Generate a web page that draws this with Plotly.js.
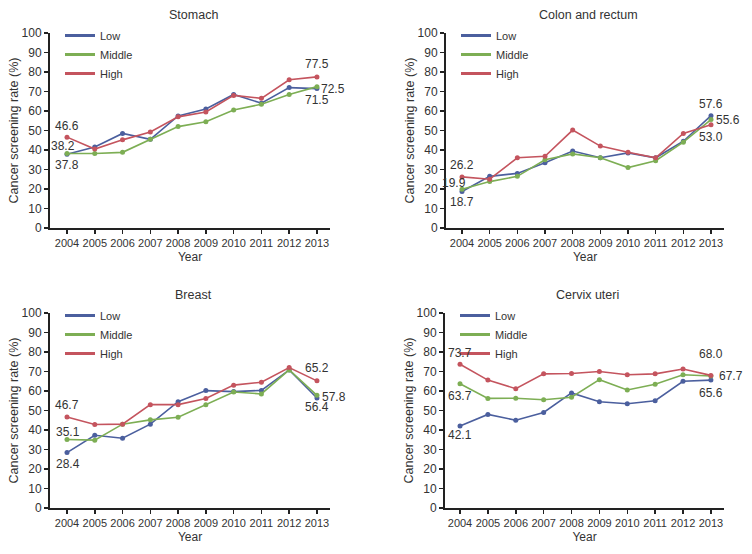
<!DOCTYPE html>
<html>
<head>
<meta charset="utf-8">
<script src="https://cdn.plot.ly/plotly-3.0.1.min.js"></script>
<style>
  html, body { margin: 0; padding: 0; background: #fff; }
  #chart { width: 752px; height: 554px; }
</style>
</head>
<body>
<div id="chart"></div>
<script>
const years = [2004, 2005, 2006, 2007, 2008, 2009, 2010, 2011, 2012, 2013];
const groups = ['Low', 'Middle', 'High'];
const panelTitles = ['Stomach', 'Colon and rectum', 'Breast', 'Cervix uteri'];
const yTicks = [0, 10, 20, 30, 40, 50, 60, 70, 80, 90, 100];

// screening rates (%) by income group
const stomachLow    = [37.8, 41.5, 48.5, 45.5, 57.5, 61.0, 68.5, 64.0, 72.0, 71.5];
const stomachMiddle = [38.2, 38.2, 38.8, 45.5, 52.0, 54.5, 60.5, 63.5, 68.5, 72.5];
const stomachHigh   = [46.6, 40.5, 45.2, 49.2, 57.0, 59.5, 68.0, 66.5, 76.0, 77.5];

const colonLow    = [18.7, 26.5, 28.0, 33.5, 39.5, 36.0, 38.5, 36.0, 44.5, 57.6];
const colonMiddle = [19.9, 23.8, 26.5, 35.0, 38.0, 36.0, 31.0, 34.5, 44.0, 55.6];
const colonHigh   = [26.2, 25.0, 36.0, 36.8, 50.2, 42.0, 38.8, 36.0, 48.5, 53.0];

const breastLow    = [28.4, 37.3, 35.8, 43.0, 54.5, 60.2, 59.7, 60.3, 70.8, 56.4];
const breastMiddle = [35.1, 34.8, 43.0, 45.2, 46.5, 53.0, 59.5, 58.5, 70.8, 57.8];
const breastHigh   = [46.7, 42.8, 43.0, 53.0, 53.0, 56.2, 63.0, 64.5, 72.0, 65.2];

const cervixLow    = [42.1, 48.0, 45.0, 49.0, 59.0, 54.5, 53.5, 55.0, 65.0, 65.6];
const cervixMiddle = [63.7, 56.2, 56.3, 55.5, 56.8, 65.8, 60.5, 63.5, 68.3, 67.7];
const cervixHigh   = [73.7, 65.6, 61.2, 68.8, 69.0, 70.0, 68.3, 68.8, 71.3, 68.0];

const panelData = [
  [stomachLow, stomachMiddle, stomachHigh],
  [colonLow, colonMiddle, colonHigh],
  [breastLow, breastMiddle, breastHigh],
  [cervixLow, cervixMiddle, cervixHigh]
];

const colors = ['#4b5f9e', '#7dae54', '#c4545e'];
const W = 752, H = 554;
const FONT = '"Liberation Sans", Arial, sans-serif';
const TXT = '#333333';

// pixel boxes for each panel: axis left/right, y of 100 and 0, first tick
const boxes = [
  { l: 50,  r: 330, top: 33,  bot: 228, first: 67 },
  { l: 446, r: 724, top: 33,  bot: 228, first: 462 },
  { l: 50,  r: 330, top: 313, bot: 508, first: 67 },
  { l: 445, r: 724, top: 313, bot: 508, first: 460 }
];

// end-point labels: [group index, year index, xshift, yshift]
const labelSpecs = [
  [[2, 0, 0, 11], [1, 0, -4, 8], [0, 0, 0, -11], [2, 9, 0, 13], [1, 9, 16, -2], [0, 9, 0, -11]],
  [[2, 0, 0, 12], [1, 0, -8, 6], [0, 0, 0, -10], [0, 9, 0, 12], [1, 9, 17, 0], [2, 9, 0, -12]],
  [[2, 0, 0, 12], [1, 0, 1, 8], [0, 0, 1, -11], [2, 9, 0, 13], [1, 9, 17, -2], [0, 9, 0, -9]],
  [[2, 0, 0, 11], [1, 0, 0, -12], [0, 0, 0, -9], [2, 9, 0, 21], [1, 9, 20, 0], [0, 9, 0, -13]]
];

const data = [];
const layout = {
  width: W, height: H,
  margin: { l: 0, r: 0, t: 0, b: 0 },
  paper_bgcolor: '#fff', plot_bgcolor: '#fff',
  font: { family: FONT, size: 11, color: TXT },
  annotations: [],
  showlegend: true
};

boxes.forEach((b, p) => {
  const n = p + 1;
  const sfx = n === 1 ? '' : String(n);
  const xr = 'x' + sfx, yr = 'y' + sfx, lg = 'legend' + sfx;
  const step = (b.r - b.first) / 9.47;

  // lines with markers
  groups.forEach((g, i) => {
    data.push({
      x: years, y: panelData[p][i],
      xaxis: xr, yaxis: yr,
      type: 'scatter', mode: 'lines+markers',
      name: g, showlegend: false,
      line: { color: colors[i], width: 1.6 },
      marker: { color: colors[i], size: 5 },
      hoverinfo: 'skip'
    });
  });
  // legend entries (line only)
  groups.forEach((g, i) => {
    data.push({
      x: [null], y: [null],
      xaxis: xr, yaxis: yr,
      type: 'scatter', mode: 'lines',
      name: g, legend: lg,
      line: { color: colors[i], width: 3 },
      hoverinfo: 'skip'
    });
  });

  const lo = 2004 - (b.first - b.l) / step;
  const hi = 2013 + (b.r - b.first - 9 * step) / step;
  layout['xaxis' + sfx] = {
    domain: [b.l / W, b.r / W],
    range: [lo, hi],
    anchor: yr,
    tickvals: years,
    ticktext: years.map(String),
    tickangle: 0,
    ticks: 'outside', ticklen: 4, tickwidth: 1.5, tickcolor: '#222',
    showline: true, linecolor: '#222', linewidth: 2,
    showgrid: false, zeroline: false,
    tickfont: { family: FONT, size: 11, color: TXT },
    title: { text: 'Year', font: { family: FONT, size: 12, color: TXT }, standoff: 4 }
  };
  layout['yaxis' + sfx] = {
    domain: [1 - b.bot / H, 1 - b.top / H],
    range: [0, 100],
    anchor: xr,
    tickvals: yTicks,
    ticks: 'outside', ticklen: 4, tickwidth: 1.5, tickcolor: '#222',
    showline: true, linecolor: '#222', linewidth: 2,
    showgrid: false, zeroline: false,
    tickfont: { family: FONT, size: 12, color: TXT },
    title: { text: 'Cancer screening rate (%)', font: { family: FONT, size: 12.5, color: TXT }, standoff: 0 }
  };
  layout[lg] = {
    x: (b.l + 10) / W, y: 1 - (b.top - 12) / H,
    xanchor: 'left', yanchor: 'top',
    bgcolor: 'rgba(0,0,0,0)',
    font: { family: FONT, size: 11, color: TXT },
    tracegroupgap: 0,
    itemwidth: 30
  };

  layout.annotations.push({
    text: panelTitles[p],
    xref: 'paper', yref: 'paper',
    x: ((b.l + b.r) / 2 + 3) / W, y: 1 - (b.top - 18) / H,
    xanchor: 'center', yanchor: 'middle',
    showarrow: false,
    font: { family: FONT, size: 12.5, color: TXT }
  });

  labelSpecs[p].forEach(([gi, yi, dx, dy]) => {
    const v = panelData[p][gi][yi];
    layout.annotations.push({
      text: v.toFixed(1),
      xref: xr, yref: yr,
      x: years[yi], y: v,
      xshift: dx, yshift: dy,
      showarrow: false,
      font: { family: FONT, size: 12, color: TXT }
    });
  });
});

Plotly.newPlot('chart', data, layout, { displayModeBar: false, staticPlot: true });
</script>
</body>
</html>
